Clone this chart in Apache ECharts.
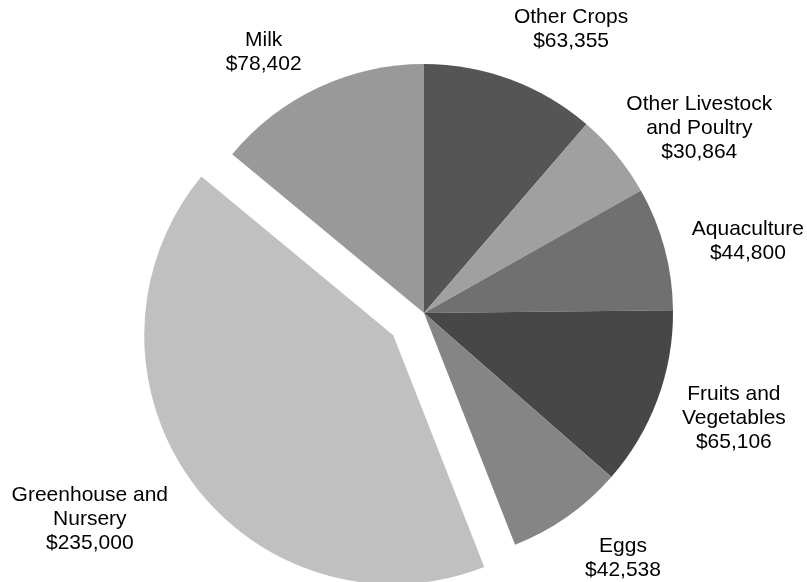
<!DOCTYPE html>
<html><head><meta charset="utf-8">
<script src="https://cdn.jsdelivr.net/npm/echarts@6/dist/echarts.min.js"></script>
<style>html,body{margin:0;padding:0;background:#fff}#c{width:807px;height:582px}</style>
</head><body><div id="c"></div>
<script>
const categories = ['Other Crops', 'Other Livestock\nand Poultry', 'Aquaculture', 'Fruits and\nVegetables', 'Eggs', 'Greenhouse and\nNursery', 'Milk'];
const values = [63355, 30864, 44800, 65106, 42538, 235000, 78402];
const colors = ['#555555', '#a0a0a0', '#707070', '#474747', '#858585', '#c0c0c0', '#999999'];
const labelOffsets = [[34, 21], [24, 21], [10, 13], [5, -7], [12, -21], [-71, 16], [-22, 33]];
const explodedIndex = 5;

const chart = echarts.init(document.getElementById('c'), null, {renderer: 'canvas'});
const center = [424, 313];
const sliceData = categories.map((n, i) => ({
  name: n, value: values[i], selected: i === explodedIndex,
  itemStyle: {color: colors[i]}
}));
const labelData = categories.map((n, i) => ({
  name: n, value: values[i],
  label: {offset: labelOffsets[i]}
}));
chart.setOption({
  animation: false,
  backgroundColor: '#ffffff',
  series: [{
    type: 'pie',
    center: center,
    radius: 249,
    startAngle: 90,
    clockwise: true,
    selectedMode: 'single',
    selectedOffset: 38,
    silent: true,
    label: {show: false},
    labelLine: {show: false},
    itemStyle: {borderWidth: 0},
    emphasis: {disabled: true},
    data: sliceData
  }, {
    type: 'pie',
    center: center,
    radius: [300, 344],
    startAngle: 90,
    clockwise: true,
    silent: true,
    itemStyle: {color: 'rgba(0,0,0,0)', borderWidth: 0},
    emphasis: {disabled: true},
    labelLine: {show: false},
    label: {
      show: true,
      position: 'inside',
      color: '#000',
      fontFamily: '"Liberation Sans", Arial, sans-serif',
      fontSize: 21,
      lineHeight: 24,
      align: 'center',
      formatter: p => p.name + '\n$' + p.value.toLocaleString('en-US')
    },
    data: labelData
  }]
});
</script>
</body></html>
